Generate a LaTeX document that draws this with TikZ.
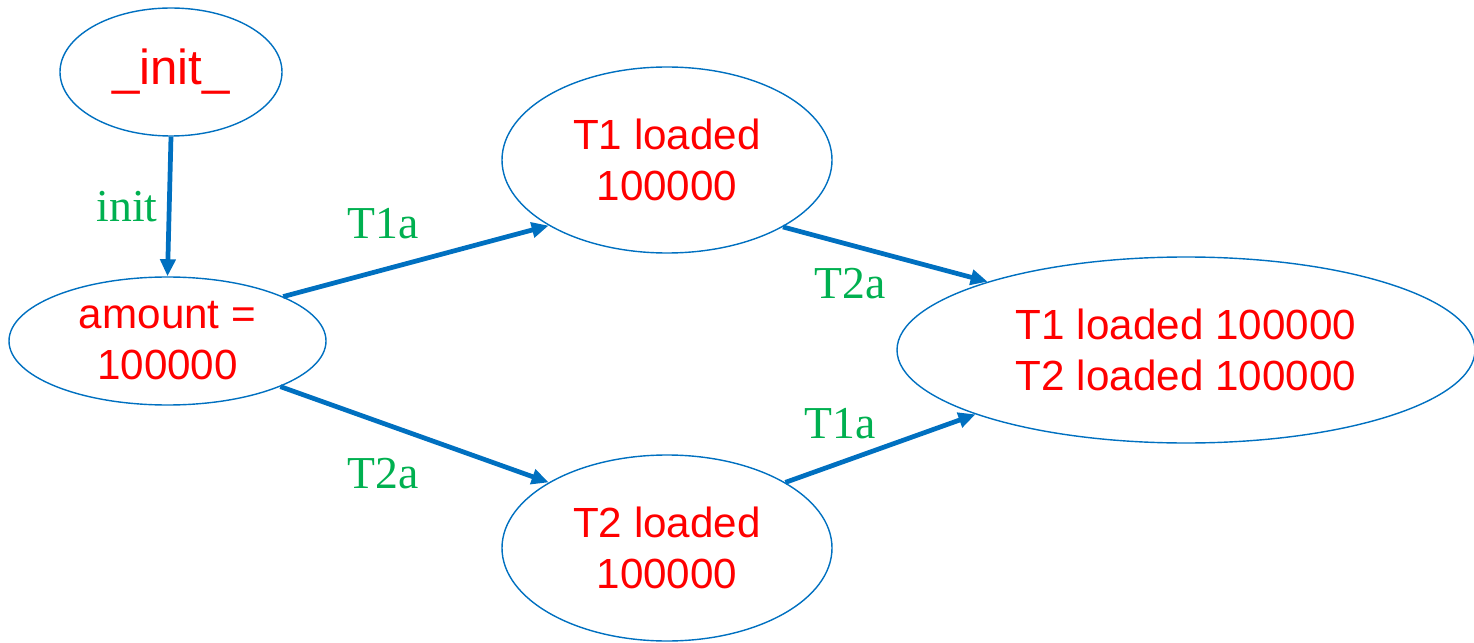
\documentclass[tikz,border=0pt]{standalone}
\usepackage{fontspec}
\setmainfont{Liberation Serif}
\newfontfamily\statefont{Liberation Sans}
\usetikzlibrary{arrows.meta,shapes.geometric}
\definecolor{edgeblue}{RGB}{0,112,192}
\definecolor{lblgreen}{RGB}{0,176,80}

\begin{document}
\begin{tikzpicture}[>={Triangle[length=3.4mm,width=3.0mm]}]
  \tikzset{
    state/.style={ellipse,draw=edgeblue,line width=0.8pt,inner sep=0pt,align=center,
      text=red,font=\statefont\fontsize{24}{29}\selectfont},
    trans/.style={->,edgeblue,line width=2.7pt},
    lbl/.style={text=lblgreen,font=\fontsize{26}{30}\selectfont}
  }
  \useasboundingbox (0,0) rectangle (29.48,12.84);

  % 状态
  \node[state,minimum width=4.44cm,minimum height=2.56cm,
    font=\statefont\fontsize{28}{32}\selectfont] (init) at (3.42,11.40) {\_init\_};
  \node[state,minimum width=6.34cm,minimum height=2.56cm] (amount) at (3.35,6.02) {amount =\\100000};
  \node[state,minimum width=6.6cm,minimum height=3.72cm] (tone) at (13.34,9.64) {T1 loaded\\100000};
  \node[state,minimum width=6.6cm,minimum height=3.72cm] (ttwo) at (13.34,1.88) {T2 loaded\\100000};
  \node[state,minimum width=11.56cm,minimum height=3.72cm] (both) at (23.72,5.84) {T1 loaded 100000\\T2 loaded 100000};

  % 转移
  \draw[trans] (init.south) -- (amount.north);
  \draw[trans] (amount.21) -- (tone.209.8);
  \draw[trans] (amount.-22) -- (ttwo.151.7);
  \draw[trans] (tone.330.5) -- (both.161.8);
  \draw[trans] (ttwo.29.5) -- (both.197.7);

  % 转移标签
  \node[lbl] (linit) at (2.54,8.70) {init};
  \node[lbl] (lup) at (7.66,8.36) {T1a};
  \node[lbl] (ldown) at (7.66,3.36) {T2a};
  \node[lbl] (lrup) at (17.0,7.16) {T2a};
  \node[lbl] (lrdown) at (16.8,4.36) {T1a};
\end{tikzpicture}
\end{document}
